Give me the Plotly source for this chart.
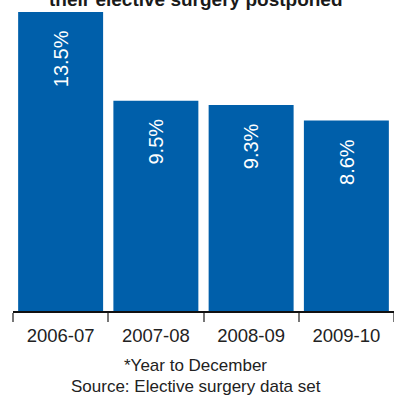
import plotly.graph_objects as go

# Share of patients with elective surgery postponed, by year
years = ["2006-07", "2007-08", "2008-09", "2009-10"]
postponed_pct = [13.5, 9.5, 9.3, 8.6]
value_labels = ["13.5%", "9.5%", "9.3%", "8.6%"]

title_line = "their elective surgery postponed"
footnote = "*Year to December"
source = "Source: Elective surgery data set"

BLUE = "#005FAA"
FONT = "Liberation Sans, Arial, sans-serif"

fig = go.Figure(
    go.Bar(
        x=years,
        y=postponed_pct,
        marker=dict(color=BLUE, line=dict(width=0)),
        hoverinfo="skip",
    )
)

# value labels written vertically near the top of each bar
for yr, val, lab in zip(years, postponed_pct, value_labels):
    fig.add_annotation(
        x=yr, y=val, xref="x", yref="y",
        text=lab, textangle=-90, showarrow=False,
        xanchor="center", yanchor="top", yshift=-16,
        font=dict(family=FONT, size=20, color="white"),
    )

fig.add_annotation(
    x=0.48, y=1.0, xref="paper", yref="paper",
    xanchor="center", yanchor="bottom", yshift=-11,
    text="<b>" + title_line + "</b>", showarrow=False,
    font=dict(family=FONT, size=19, color="#1a1a1a"),
)
fig.add_annotation(
    x=0.48, y=0, xref="paper", yref="paper",
    xanchor="center", yanchor="middle", yshift=-54,
    text=footnote, showarrow=False,
    font=dict(family=FONT, size=17, color="#222222"),
)
fig.add_annotation(
    x=0.48, y=0, xref="paper", yref="paper",
    xanchor="center", yanchor="middle", yshift=-75,
    text=source, showarrow=False,
    font=dict(family=FONT, size=17, color="#222222"),
)

fig.update_layout(
    width=394, height=395,
    margin=dict(l=13, r=0, t=1, b=84),
    paper_bgcolor="white", plot_bgcolor="white",
    bargap=0.108,
    showlegend=False,
    font=dict(family=FONT, color="#222222"),
)
fig.update_xaxes(
    type="category",
    showline=True, linecolor="#111111", linewidth=1.5,
    ticks="outside", tickson="boundaries", ticklen=9,
    tickcolor="#777777", tickwidth=2,
    ticklabelstandoff=7,
    tickfont=dict(family=FONT, size=18.5, color="#222222"),
    showgrid=False, zeroline=False, fixedrange=True,
)
fig.update_yaxes(
    range=[0, 14], visible=False, showgrid=False, fixedrange=True,
)

fig.write_html("out.html", config={"displayModeBar": False})
